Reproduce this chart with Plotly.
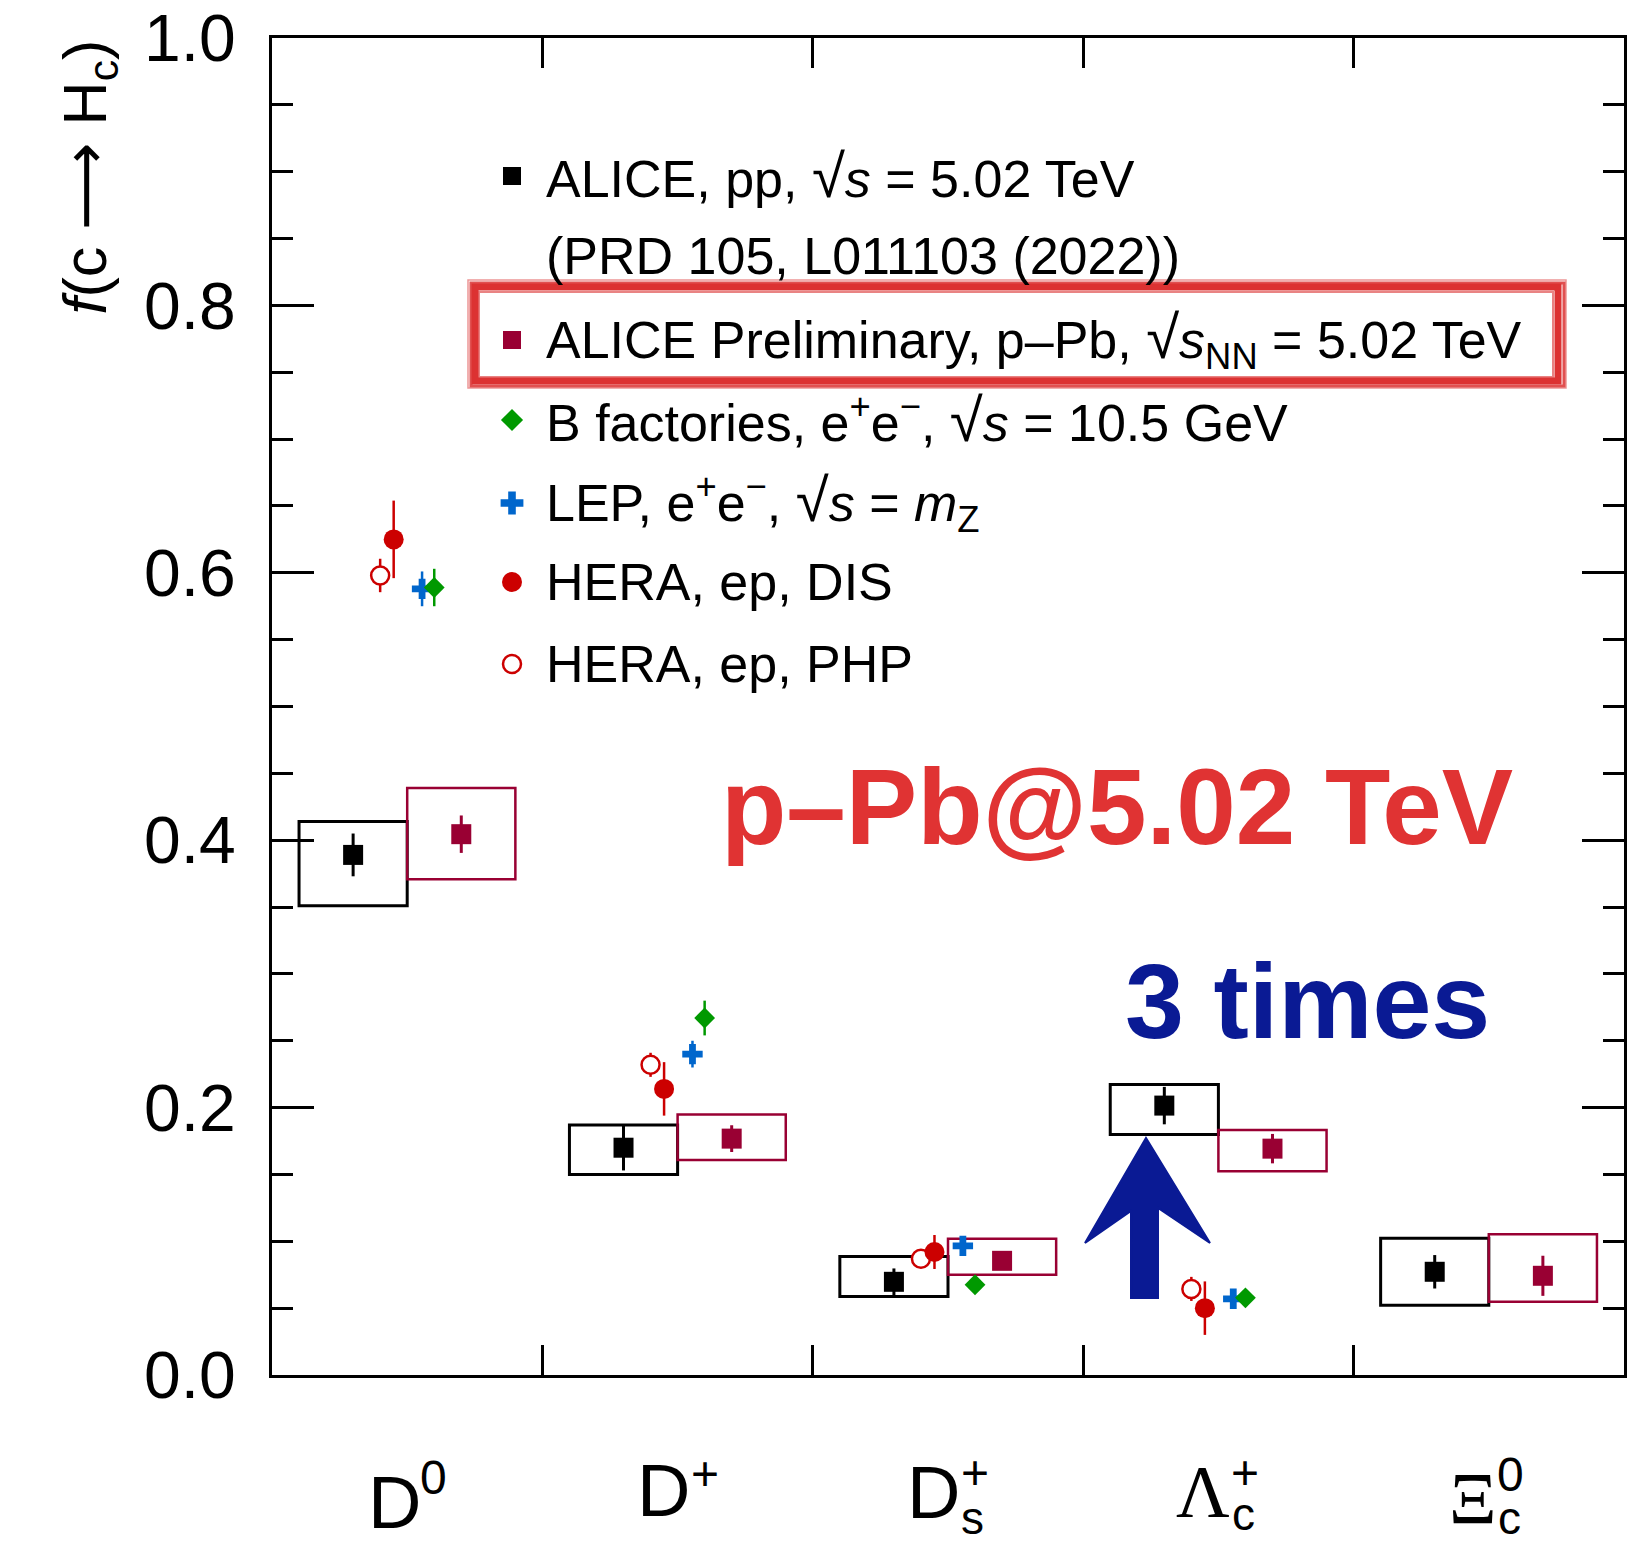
import plotly.graph_objects as go

# ---------------- data ----------------
cat_main = ["D", "D", "D", "Λ", "Ξ"]
cat_sup = ["0", "+", "+", "+", "0"]
cat_sub = ["", "", "s", "c", "c"]

# ALICE pp 5.02 TeV
pp_val = [0.389, 0.170, 0.0697, 0.2015, 0.0772]
pp_stat = [0.016, 0.017, 0.010, 0.014, 0.0125]
pp_syst_hi = [0.025, 0.017, 0.019, 0.0157, 0.025]
pp_syst_lo = [0.038, 0.020, 0.011, 0.0217, 0.025]

# ALICE Preliminary p-Pb 5.02 TeV
ppb_val = [0.4045, 0.1768, 0.0854, 0.1693, 0.0742]
ppb_stat = [0.014, 0.010, 0.005, 0.011, 0.015]
ppb_syst_hi = [0.0345, 0.018, 0.0165, 0.014, 0.031]
ppb_syst_lo = [0.0337, 0.016, 0.0105, 0.017, 0.0195]

# e+e- and ep results (D0, D+, Ds+, Lambda_c+)
hera_dis_val = [0.625, 0.214, 0.092, 0.050]
hera_dis_err = [0.029, 0.020, 0.0127, 0.020]
hera_php_val = [0.598, 0.232, 0.087, 0.0644]
hera_php_err = [0.0125, 0.009, 0.005, 0.009]
lep_val = [0.588, 0.240, 0.0966, 0.057]
lep_err = [0.013, 0.010, 0.005, 0.004]
bfac_val = [0.589, 0.267, 0.0675, 0.0577]
bfac_err = [0.014, 0.013, 0.004, 0.004]

SQ = "<span style=\"font-size:60px\">√</span>"
legend_rows = [
    f"ALICE, pp, {SQ}<i>s</i> = 5.02 TeV",
    "(PRD 105, L011103 (2022))",
    f"ALICE Preliminary, p–Pb, {SQ}<i>s</i><sub>NN</sub> = 5.02 TeV",
    f"B factories, e<sup>+</sup>e<sup>−</sup>, {SQ}<i>s</i> = 10.5 GeV",
    f"LEP, e<sup>+</sup>e<sup>−</sup>, {SQ}<i>s</i> = <i>m</i><sub>Z</sub>",
    "HERA, ep, DIS",
    "HERA, ep, PHP",
]

# ---------------- styles / geometry ----------------
FONT = "Liberation Sans, Arial, Helvetica, sans-serif"
SERIF = "Liberation Serif, Times New Roman, serif"
OFF = 8  # default page margin of the html body
W, H = 1639 - 2 * OFF, 1542 - 2 * OFF
PX0, PX1, PY0, PY1 = 272, 1624, 38, 1375  # plot frame in screen pixels
L, T = PX0 - OFF, PY0 - OFF
R = W - (PX1 - OFF)
B = H - (PY1 - OFF)
PW, PH = PX1 - PX0, PY1 - PY0

C_PP = "#000000"
C_PPB = "#990033"
C_HERA = "#cc0000"
C_LEP = "#0066cc"
C_B = "#009900"
C_RED = "#e03333"
C_NAVY = "#0a1a94"


def xp(px):
    return (px - PX0) / PW


def yp(py):
    return (PY1 - py) / PH


n = len(cat_main)
x_pp = [i + 0.3 for i in range(n)]
x_ppb = [i + 0.7 for i in range(n)]
m = len(hera_dis_val)
x_php = [i + 0.40 for i in range(m)]
x_dis = [i + 0.45 for i in range(m)]
x_lep = [i + 0.555 for i in range(m)]
x_b = [i + 0.60 for i in range(m)]

fig = go.Figure()

shapes = []
# systematic boxes
for i in range(n):
    shapes.append(dict(type="rect", xref="x", yref="y", layer="below",
                       x0=x_pp[i] - 0.2, x1=x_pp[i] + 0.2,
                       y0=pp_val[i] - pp_syst_lo[i], y1=pp_val[i] + pp_syst_hi[i],
                       line=dict(color=C_PP, width=3), fillcolor="rgba(0,0,0,0)"))
    shapes.append(dict(type="rect", xref="x", yref="y", layer="below",
                       x0=x_ppb[i] - 0.2, x1=x_ppb[i] + 0.2,
                       y0=ppb_val[i] - ppb_syst_lo[i], y1=ppb_val[i] + ppb_syst_hi[i],
                       line=dict(color=C_PPB, width=2.5), fillcolor="rgba(0,0,0,0)"))


def pts(x, y, err, color, symbol, size, lw=0, fill=None, thick=3):
    fig.add_trace(go.Scatter(
        x=x, y=y, mode="markers", showlegend=False, cliponaxis=False,
        error_y=dict(type="data", array=err, color=color, thickness=thick, width=0),
        marker=dict(symbol=symbol, size=size, color=fill if fill else color,
                    line=dict(color=color, width=lw))))


pts(x_pp, pp_val, pp_stat, C_PP, "square", 20)
pts(x_ppb, ppb_val, ppb_stat, C_PPB, "square", 20)
pts(x_php, hera_php_val, hera_php_err, C_HERA, "circle", 18, lw=2.5, fill="white", thick=2.5)
pts(x_dis, hera_dis_val, hera_dis_err, C_HERA, "circle", 20, thick=2.5)
pts(x_lep, lep_val, lep_err, C_LEP, "cross", 17, thick=2.5)
pts(x_b, bfac_val, bfac_err, C_B, "diamond", 16, thick=2.5)

# ---------------- legend (drawn manually) ----------------
row_y = [176, 256, 340, 420, 503, 582, 664]
key_x = xp(512)
text_x = xp(544)
key_specs = [
    (0, "square", C_PP, 18, None, 0),
    (2, "square", C_PPB, 18, None, 0),
    (3, "diamond", C_B, 17, None, 0),
    (4, "cross", C_LEP, 19, None, 0),
    (5, "circle", C_HERA, 20, None, 0),
    (6, "circle", C_HERA, 18, "white", 2.5),
]
for row, sym, col, sz, fill, lw in key_specs:
    fig.add_trace(go.Scatter(
        x=[key_x], y=[yp(row_y[row])], xaxis="x2", yaxis="y2", mode="markers",
        showlegend=False, cliponaxis=False,
        marker=dict(symbol=sym, size=sz, color=fill if fill else col,
                    line=dict(color=col, width=lw))))

annotations = []
for txt, ry in zip(legend_rows, row_y):
    annotations.append(dict(xref="paper", yref="paper", x=text_x, y=yp(ry),
                            xanchor="left", yanchor="middle", showarrow=False,
                            text=txt, font=dict(family=FONT, size=52, color="black")))

# hand-drawn red box around preliminary entry
for (x0, x1, y0, y1, w, op) in [(475, 1558, 287, 381, 7, 1.0),
                                 (471, 1564, 283, 386, 3, 0.85),
                                 (479, 1553, 292, 377, 2, 0.6),
                                 (468, 1566, 280, 388, 1.5, 0.5)]:
    shapes.append(dict(type="rect", xref="paper", yref="paper",
                       x0=xp(x0), x1=xp(x1), y0=yp(y1), y1=yp(y0),
                       line=dict(color="#dc3232", width=w), opacity=op))

# big labels
annotations.append(dict(xref="paper", yref="paper", x=xp(1117), y=yp(807),
                        xanchor="center", yanchor="middle", showarrow=False,
                        text="<b>p–Pb@5.02 TeV</b>",
                        font=dict(family=FONT, size=107, color=C_RED)))
annotations.append(dict(xref="paper", yref="paper", x=xp(1307), y=yp(1001),
                        xanchor="center", yanchor="middle", showarrow=False,
                        text="<b>3 times</b>",
                        font=dict(family=FONT, size=106, color=C_NAVY)))

# sketchy arrow
arrow_px = [(1146, 1138), (1210, 1243), (1158, 1208), (1158, 1298),
            (1131, 1298), (1131, 1211), (1085, 1243)]
path = "M " + " L ".join(f"{xp(a):.5f},{yp(b):.5f}" for a, b in arrow_px) + " Z"
shapes.append(dict(type="path", xref="paper", yref="paper", path=path,
                   fillcolor=C_NAVY, line=dict(color=C_NAVY, width=2)))

# y-axis title
annotations.append(dict(xref="paper", yref="paper", x=xp(88), y=1.0,
                        xanchor="center", yanchor="top", showarrow=False, textangle=-90,
                        text="<i>f</i>(c <span style=\"font-family:DejaVu Sans\">⟶</span> H<sub>c</sub>)",
                        font=dict(family=FONT, size=61, color="black")))

# category labels (main, superscript, subscript)
main_off = [(-13, -127), (-14, -115), (-15, -117), (-15, -117), (-16, -124)]
sup_off = [(26, -102), (27, -98), (27, -97), (27, -97), (22, -99)]
sub_off = [(0, 0), (0, 0), (24, -143), (25, -139), (21, -143)]
for i in range(n):
    fam = SERIF if cat_main[i] in ("Λ", "Ξ") else FONT
    annotations.append(dict(xref="x", yref="paper", x=i + 0.5, y=0,
                            xshift=main_off[i][0], yshift=main_off[i][1],
                            xanchor="center", yanchor="middle", showarrow=False,
                            text=cat_main[i], font=dict(family=fam, size=74, color="black")))
    annotations.append(dict(xref="x", yref="paper", x=i + 0.5, y=0,
                            xshift=sup_off[i][0], yshift=sup_off[i][1],
                            xanchor="center", yanchor="middle", showarrow=False,
                            text=cat_sup[i], font=dict(family=FONT, size=48, color="black")))
    if cat_sub[i]:
        annotations.append(dict(xref="x", yref="paper", x=i + 0.5, y=0,
                                xshift=sub_off[i][0], yshift=sub_off[i][1],
                                xanchor="center", yanchor="middle", showarrow=False,
                                text=cat_sub[i], font=dict(family=FONT, size=46, color="black")))

fig.update_layout(
    width=W, height=H,
    margin=dict(l=L, r=R, t=T, b=B, pad=0, autoexpand=False),
    paper_bgcolor="white", plot_bgcolor="white",
    showlegend=False,
    shapes=shapes, annotations=annotations,
    xaxis=dict(range=[0, 5], tickvals=[1, 2, 3, 4], showticklabels=False,
               ticks="inside", ticklen=30, tickwidth=2.5, tickcolor="black",
               showline=True, linecolor="black", linewidth=3, mirror="allticks",
               showgrid=False, zeroline=False, fixedrange=True, automargin=False),
    yaxis=dict(range=[0, 1], tickvals=[0, 0.2, 0.4, 0.6, 0.8, 1.0],
               ticktext=["0.0", "0.2", "0.4", "0.6", "0.8", "1.0"],
               ticks="inside", ticklen=42, tickwidth=2.5, tickcolor="black",
               minor=dict(dtick=0.05, ticks="inside", ticklen=21, tickwidth=2.5,
                          tickcolor="black", showgrid=False),
               tickfont=dict(family=FONT, size=66, color="black"),
               ticklabelstandoff=20, ticklabeloverflow="allow",
               showline=True, linecolor="black", linewidth=3, mirror="allticks",
               showgrid=False, zeroline=False, fixedrange=True, automargin=False),
    xaxis2=dict(overlaying="x", range=[0, 1], visible=False, fixedrange=True,
                automargin=False),
    yaxis2=dict(overlaying="y", range=[0, 1], visible=False, fixedrange=True,
                automargin=False),
)

fig.write_html("out.html")
